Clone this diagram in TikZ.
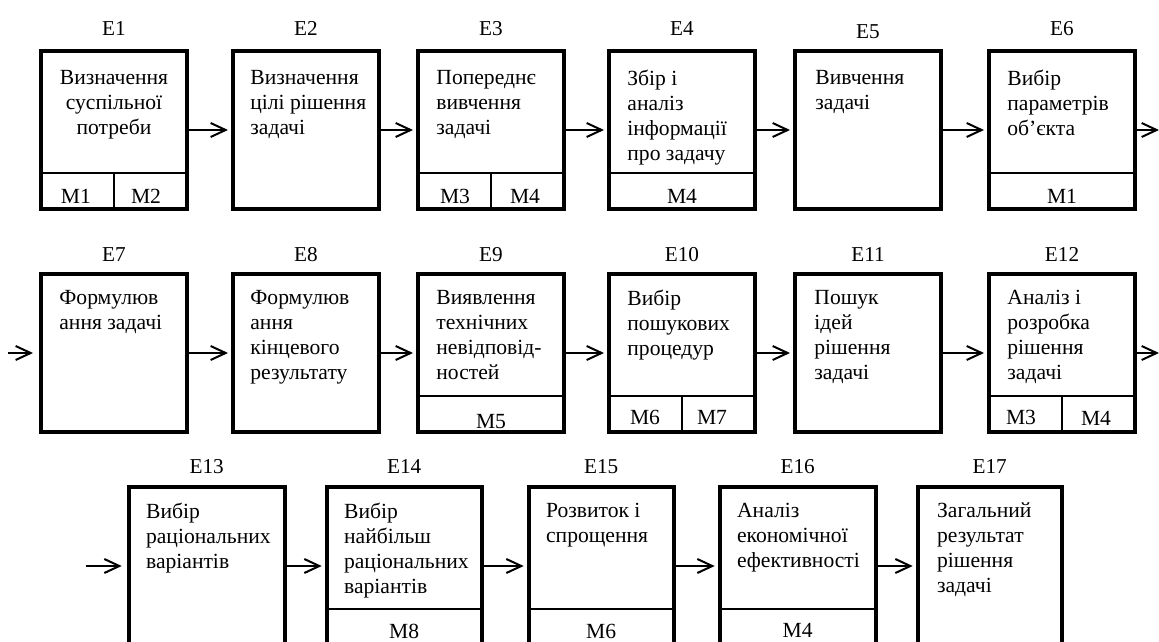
\documentclass[tikz,border=0pt]{standalone}
\usepackage{fontspec}
\setmainfont{Liberation Serif}
\usetikzlibrary{positioning,arrows.meta}

\begin{document}
\begin{tikzpicture}[
        x=0.5pt, y=-0.5pt,
        stage/.style={
                rectangle,
                draw=black,
                line width=2pt,
                minimum width=73pt,
                minimum height=79pt,
                inner sep=0pt
            },
        title/.style={inner sep=0pt, font=\fontsize{10.6}{12}\selectfont},
        body/.style={
                anchor=north west,
                align=left,
                inner sep=0pt,
                font=\fontsize{10.8}{12.5}\selectfont,
                execute at begin node=\strut
            },
        cell/.style={inner sep=0pt, font=\fontsize{10.8}{12}\selectfont},
        split/.style={line width=0.7pt},
        flow/.style={->, line width=1pt, shorten >=1.5pt},
        >={Straight Barb[length=7.5pt,width=7pt]}
    ]
    \useasboundingbox (0,0) rectangle (1159,641);
    \clip (0,0) rectangle (1159,641);

    % first row
    \node[stage] (e1) at (114,130) {};
    \node[stage] (e2) [right=21pt of e1] {};
    \node[stage] (e3) [right=17.5pt of e2] {};
    \node[stage] (e4) [right=20.5pt of e3] {};
    \node[stage] (e5) [right=18pt of e4] {};
    \node[stage] (e6) [right=22pt of e5] {};

    % second row
    \node[stage] (e7) [below=30.5pt of e1] {};
    \node[stage] (e8) [below=30.5pt of e2] {};
    \node[stage] (e9) [below=30.5pt of e3] {};
    \node[stage] (e10) [below=30.5pt of e4] {};
    \node[stage] (e11) [below=30.5pt of e5] {};
    \node[stage] (e12) [below=30.5pt of e6] {};

    % third row
    \node[stage, minimum width=78pt] (e13) at (206.7,566) {};
    \node[stage, minimum width=77.5pt] (e14) [right=19pt of e13] {};
    \node[stage, minimum width=72.5pt] (e15) [right=21.5pt of e14] {};
    \node[stage, minimum width=78pt] (e16) [right=21pt of e15] {};
    \node[stage, minimum width=72pt] (e17) [right=19pt of e16] {};

    % titles
    \node[title] (t1) [above=6.5pt of e1] {E1};
    \node[title] (t2) [above=6.5pt of e2] {E2};
    \node[title] (t3) [above=6.5pt of e3] {E3};
    \node[title] (t4) [above=6.5pt of e4] {E4};
    \node[title] (t5) [above=5pt of e5] {E5};
    \node[title] (t6) [above=6.5pt of e6] {E6};
    \node[title] (t7) [above=5pt of e7] {E7};
    \node[title] (t8) [above=5pt of e8] {E8};
    \node[title] (t9) [above=5pt of e9] {E9};
    \node[title] (t10) [above=5pt of e10] {E10};
    \node[title] (t11) [above=5pt of e11] {E11};
    \node[title] (t12) [above=5pt of e12] {E12};
    \node[title] (t13) [above=5.5pt of e13] {E13};
    \node[title] (t14) [above=5.5pt of e14] {E14};
    \node[title] (t15) [above=5.5pt of e15] {E15};
    \node[title] (t16) [above=5.5pt of e16] {E16};
    \node[title] (t17) [above=5.5pt of e17] {E17};

    % texts
    \node[body, anchor=north, align=center] (b1) at ([yshift=-10.25pt]e1.north) {Визначення\\суспільної\\потреби};
    \node[body] (b2) at ([xshift=9.5pt,yshift=-10.25pt]e2.north west) {Визначення\\цілі рішення\\задачі};
    \node[body] (b3) at ([xshift=10pt,yshift=-10.25pt]e3.north west) {Попереднє\\вивчення\\задачі};
    \node[body] (b4) at ([xshift=10pt,yshift=-10.25pt]e4.north west) {Збір і\\аналіз\\інформації\\про задачу};
    \node[body] (b5) at ([xshift=11pt,yshift=-10.5pt]e5.north west) {Вивчення\\задачі};
    \node[body] (b6) at ([xshift=10pt,yshift=-10.25pt]e6.north west) {Вибір\\параметрів\\об’єкта};
    \node[body] (b7) at ([xshift=10pt,yshift=-9pt]e7.north west) {Формулюв\\ання задачі};
    \node[body] (b8) at ([xshift=9.5pt,yshift=-9pt]e8.north west) {Формулюв\\ання\\кінцевого\\результату};
    \node[body] (b9) at ([xshift=10pt,yshift=-9pt]e9.north west) {Виявлення\\технічних\\невідповід-\\ностей};
    \node[body] (b10) at ([xshift=10pt,yshift=-9pt]e10.north west) {Вибір\\пошукових\\процедур};
    \node[body] (b11) at ([xshift=10.5pt,yshift=-9pt]e11.north west) {Пошук\\ідей\\рішення\\задачі};
    \node[body] (b12) at ([xshift=10pt,yshift=-9pt]e12.north west) {Аналіз і\\розробка\\рішення\\задачі};
    \node[body] (b13) at ([xshift=9.5pt,yshift=-8.75pt]e13.north west) {Вибір\\раціональних\\варіантів};
    \node[body] (b14) at ([xshift=9.5pt,yshift=-8.75pt]e14.north west) {Вибір\\найбільш\\раціональних\\варіантів};
    \node[body] (b15) at ([xshift=9.5pt,yshift=-8.75pt]e15.north west) {Розвиток і\\спрощення};
    \node[body] (b16) at ([xshift=9.5pt,yshift=-8.75pt]e16.north west) {Аналіз\\економічної\\ефективності};
    \node[body] (b17) at ([xshift=10.5pt,yshift=-8.75pt]e17.north west) {Загальний\\результат\\рішення\\задачі};

    % method cells
    \draw[split] ([yshift=19pt]e1.south west) -- ([yshift=19pt]e1.south east);
    \draw[split] ([yshift=19pt]e1.south) -- (e1.south);
    \node[cell] (m1a) at ([xshift=-19pt,yshift=7.5pt]e1.south) {M1};
    \node[cell] (m1b) at ([xshift=16pt,yshift=7.5pt]e1.south) {M2};

    \draw[split] ([yshift=19pt]e3.south west) -- ([yshift=19pt]e3.south east);
    \draw[split] ([yshift=19pt]e3.south) -- (e3.south);
    \node[cell] (m3a) at ([xshift=-18pt,yshift=7.5pt]e3.south) {M3};
    \node[cell] (m3b) at ([xshift=17pt,yshift=7.5pt]e3.south) {M4};

    \draw[split] ([yshift=19pt]e4.south west) -- ([yshift=19pt]e4.south east);
    \node[cell] (m4) at ([yshift=7.5pt]e4.south) {M4};

    \draw[split] ([yshift=19pt]e6.south west) -- ([yshift=19pt]e6.south east);
    \node[cell] (m6) at ([yshift=7.5pt]e6.south) {M1};

    \draw[split] ([yshift=19pt]e9.south west) -- ([yshift=19pt]e9.south east);
    \node[cell] (m9) at ([yshift=6pt]e9.south) {M5};

    \draw[split] ([yshift=19pt]e10.south west) -- ([yshift=19pt]e10.south east);
    \draw[split] ([yshift=19pt]e10.south) -- (e10.south);
    \node[cell] (m10a) at ([xshift=-18.5pt,yshift=8.5pt]e10.south) {M6};
    \node[cell] (m10b) at ([xshift=15pt,yshift=8.5pt]e10.south) {M7};

    \draw[split] ([yshift=19pt]e12.south west) -- ([yshift=19pt]e12.south east);
    \draw[split] ([yshift=19pt]e12.south) -- (e12.south);
    \node[cell] (m12a) at ([xshift=-20.5pt,yshift=8.5pt]e12.south) {M3};
    \node[cell] (m12b) at ([xshift=17pt,yshift=8pt]e12.south) {M4};

    \draw[split] ([yshift=19pt]e14.south west) -- ([yshift=19pt]e14.south east);
    \node[cell] (m14) at ([yshift=8pt]e14.south) {M8};

    \draw[split] ([yshift=19pt]e15.south west) -- ([yshift=19pt]e15.south east);
    \node[cell] (m15) at ([yshift=8pt]e15.south) {M6};

    \draw[split] ([yshift=19pt]e16.south west) -- ([yshift=19pt]e16.south east);
    \node[cell] (m16) at ([yshift=8.5pt]e16.south) {M4};

    % connectors
    \coordinate (out6) at ([xshift=12.5pt]e6.east);
    \coordinate (in7) at ([xshift=-15.5pt]e7.west);
    \coordinate (out12) at ([xshift=12.5pt]e12.east);
    \coordinate (in13) at ([xshift=-20.5pt]e13.west);

    \draw[flow] (e1.east) -- (e2.west);
    \draw[flow] (e2.east) -- (e3.west);
    \draw[flow] (e3.east) -- (e4.west);
    \draw[flow] (e4.east) -- (e5.west);
    \draw[flow] (e5.east) -- (e6.west);
    \draw[flow] (e6.east) -- (out6);
    \draw[flow, shorten >=3pt] (in7) -- (e7.west);
    \draw[flow] (e7.east) -- (e8.west);
    \draw[flow] (e8.east) -- (e9.west);
    \draw[flow] (e9.east) -- (e10.west);
    \draw[flow] (e10.east) -- (e11.west);
    \draw[flow] (e11.east) -- (e12.west);
    \draw[flow] (e12.east) -- (out12);
    \draw[flow, shorten >=2.5pt] (in13) -- (e13.west);
    \draw[flow] (e13.east) -- (e14.west);
    \draw[flow] (e14.east) -- (e15.west);
    \draw[flow] (e15.east) -- (e16.west);
    \draw[flow] (e16.east) -- (e17.west);
\end{tikzpicture}
\end{document}
